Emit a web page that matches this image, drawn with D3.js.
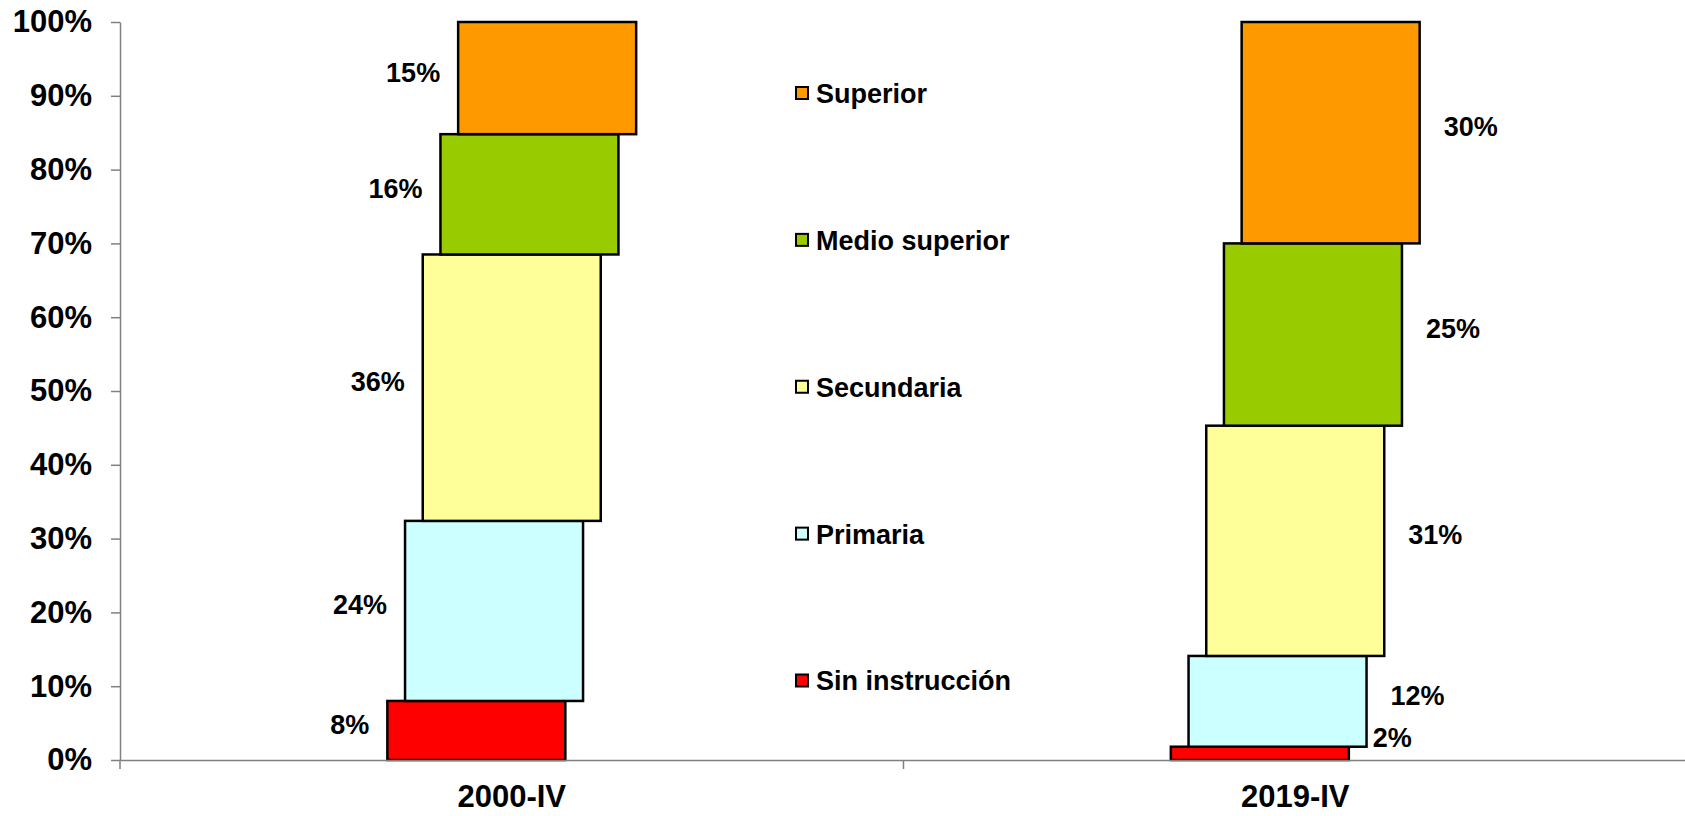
<!DOCTYPE html>
<html>
<head>
<meta charset="utf-8">
<script src="https://cdn.jsdelivr.net/npm/d3@7"></script>
<style>
  body { margin: 0; background: #fff; }
  text { font-family: "Liberation Sans", Arial, sans-serif; font-weight: bold; fill: #000; }
</style>
</head>
<body>
<svg id="chart" width="1685" height="816"></svg>
<script>
let categories = ["2000-IV", "2019-IV"];
let keys = ["Sin instrucción", "Primaria", "Secundaria", "Medio superior", "Superior"];
let sinInstruccion = [8.0, 1.8];
let primaria = [24.4, 12.3];
let secundaria = [36.1, 31.2];
let medioSuperior = [16.3, 24.7];
let superior = [15.2, 30.0];
let yTicks = [0, 10, 20, 30, 40, 50, 60, 70, 80, 90, 100];

let series = [sinInstruccion, primaria, secundaria, medioSuperior, superior];
let data = categories.map(function(c, i) {
  let row = { cat: c };
  keys.forEach(function(k, j) { row[k] = series[j][i]; });
  return row;
});

let svg = d3.select("#chart"),
    plotLeft = 120, plotRight = 1687, plotTop = 22, plotBottom = 760;

let x0 = d3.scaleBand().domain(categories).range([plotLeft, plotRight]).padding(0);
let barWidth = 178, stagger = 17.7;
let x1 = d3.scalePoint().domain(keys).range([0, stagger * (keys.length - 1)]);
let groupWidth = barWidth + stagger * (keys.length - 1);

let y = d3.scaleLinear().domain([0, 100]).range([plotBottom, plotTop]);

let z = d3.scaleOrdinal()
    .domain(keys)
    .range(["#ff0000", "#ccffff", "#ffff99", "#99cc00", "#ff9900"]);

let stacked = d3.stack().keys(keys)(data);

function barX(d, key) {
  return x0(d.data.cat) + x0.bandwidth() / 2 - groupWidth / 2 + x1(key);
}

// bars
let layers = svg.append("g")
  .selectAll("g")
  .data(stacked)
  .enter().append("g")
    .attr("fill", function(d) { return z(d.key); });

layers.selectAll("rect")
  .data(function(d) { return d.map(function(p) { p.key = d.key; return p; }); })
  .enter().append("rect")
    .attr("x", function(d) { return barX(d, d.key); })
    .attr("y", function(d) { return y(d[1]); })
    .attr("width", barWidth)
    .attr("height", function(d) { return y(d[0]) - y(d[1]); })
    .attr("stroke", "#000")
    .attr("stroke-width", 2.5);

// data labels: left of bars for first category, right for second
let labels = svg.append("g");
stacked.forEach(function(layer) {
  labels.selectAll(null)
    .data(layer)
    .enter().append("text")
      .attr("font-size", 27)
      .attr("text-anchor", function(d, i) { return i === 0 ? "end" : "start"; })
      .attr("x", function(d, i) {
        let bx = barX(d, layer.key);
        return i === 0 ? bx - 18 : bx + barWidth + 24;
      })
      .attr("y", function(d) {
        let c = (y(d[0]) + y(d[1])) / 2 - 6;
        return Math.min(c, plotBottom - 22);
      })
      .attr("dy", "0.35em")
      .text(function(d) { return Math.round(d[1] - d[0]) + "%"; });
});

// y axis
let yAxis = svg.append("g")
    .attr("transform", "translate(" + plotLeft + ",0)")
    .call(d3.axisLeft(y).tickValues(yTicks).tickSize(9).tickSizeOuter(0).tickPadding(19)
      .tickFormat(function(d) { return d + "%"; }));
yAxis.selectAll("text").attr("font-size", 31).attr("font-family", null);

// x axis
let xAxis = svg.append("g")
    .attr("transform", "translate(0," + plotBottom + ")")
    .call(d3.axisBottom(x0).tickSize(0).tickPadding(25));
xAxis.selectAll("text").attr("font-size", 31).attr("font-family", null);

// boundary ticks between categories
let edges = categories.map(function(c) { return x0(c); }).concat([plotRight]);
xAxis.selectAll(".edge")
  .data(edges)
  .enter().append("line")
    .attr("class", "edge")
    .attr("x1", function(d) { return d; })
    .attr("x2", function(d) { return d; })
    .attr("y1", 0)
    .attr("y2", 9);

svg.selectAll(".domain, .tick line, .edge")
    .attr("stroke", "#808080")
    .attr("stroke-width", 1.5);

// legend
let legendKeys = keys.slice().reverse();
let ly = d3.scalePoint().domain(legendKeys).range([93.5, 681]);
let legend = svg.append("g")
  .selectAll("g")
  .data(legendKeys)
  .enter().append("g")
    .attr("transform", function(d) { return "translate(796," + ly(d) + ")"; });

legend.append("rect")
    .attr("x", 0)
    .attr("y", -6.5)
    .attr("width", 12)
    .attr("height", 12)
    .attr("fill", z)
    .attr("stroke", "#000")
    .attr("stroke-width", 2);

legend.append("text")
    .attr("x", 20)
    .attr("y", 0)
    .attr("dy", "0.35em")
    .attr("font-size", 27)
    .text(function(d) { return d; });
</script>
</body>
</html>
